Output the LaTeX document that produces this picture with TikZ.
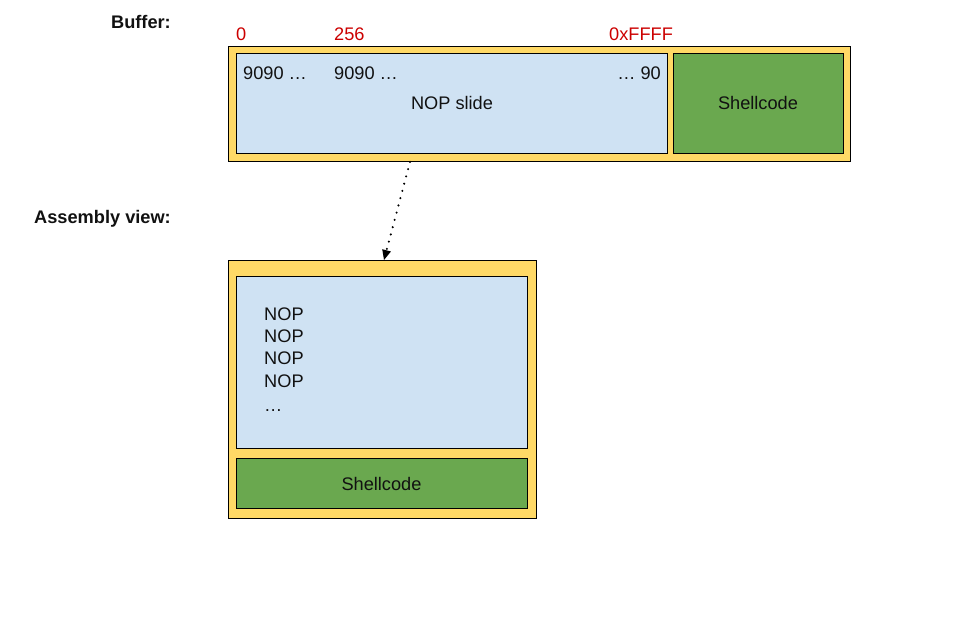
\documentclass[tikz,border=0pt]{standalone}
\usepackage{fontspec}
\setmainfont{Liberation Sans}
\usetikzlibrary{arrows.meta}
\definecolor{ylw}{HTML}{FFD966}
\definecolor{lblue}{HTML}{CFE2F3}
\definecolor{grn}{HTML}{6AA84F}
\definecolor{rd}{HTML}{CC0000}
\definecolor{txt}{HTML}{111111}
\begin{document}
\begin{tikzpicture}[x=1pt,y=-1pt,
  box/.style={draw=black,line width=0.9pt,inner sep=0pt,anchor=north west},
  lbl/.style={inner sep=0pt,font=\fontsize{18.2}{21}\selectfont,text=txt},
  redlbl/.style={lbl,text=rd,anchor=base west},
  head/.style={lbl,font=\fontsize{18.2}{21}\selectfont\bfseries,anchor=base east}]
\useasboundingbox[fill=white] (0,0) rectangle (956,618);
% buffer
\node[box,fill=ylw,minimum width=622pt,minimum height=115pt] (buf) at (228,46) {};
\node[box,fill=lblue,minimum width=431pt,minimum height=100pt] (nop) at (236,53) {};
\node[box,fill=grn,minimum width=170pt,minimum height=100pt] (sc) at (673,53) {};
\node[head] (hbuf) at (171,28.5) {Buffer:};
\node[redlbl] (r0) at (236,40.5) {0};
\node[redlbl] (r256) at (334,40.5) {256};
\node[redlbl] (rff) at (609,40.5) {0xFFFF};
\node[lbl,anchor=base west] (n1) at (243,79.5) {9090 …};
\node[lbl,anchor=base west] (n2) at (334,79.5) {9090 …};
\node[lbl,anchor=base east] (n3) at (661,79.5) {… 90};
\node[lbl,anchor=base] (nslide) at (452,109.5) {NOP slide};
\node[lbl,anchor=base] (sct) at (758,109.5) {Shellcode};
% assembly
\node[head] (hasm) at (171,223.5) {Assembly view:};
\node[box,fill=ylw,minimum width=308pt,minimum height=258pt] (asm) at (228,260) {};
\node[box,fill=lblue,minimum width=291pt,minimum height=172pt] (anop) at (236,276) {};
\node[box,fill=grn,minimum width=291pt,minimum height=50pt] (asc) at (236,458) {};
\node[lbl,anchor=base west] (l1) at (264,320.5) {NOP};
\node[lbl,anchor=base west] (l2) at (264,342.5) {NOP};
\node[lbl,anchor=base west] (l3) at (264,364.5) {NOP};
\node[lbl,anchor=base west] (l4) at (264,387.5) {NOP};
\node[lbl,anchor=base west] (l5) at (264,411) {…};
\node[lbl,anchor=base] (asct) at (381.5,490.5) {Shellcode};
% arrow
\draw[line width=2.3pt,line cap=round,dash pattern=on 0pt off 7.5pt,
  -{Triangle[length=10pt,width=9pt,line width=0pt]}]
  ([xshift=182pt]buf.south west) -- ([xshift=156pt]asm.north west);
\end{tikzpicture}
\end{document}
